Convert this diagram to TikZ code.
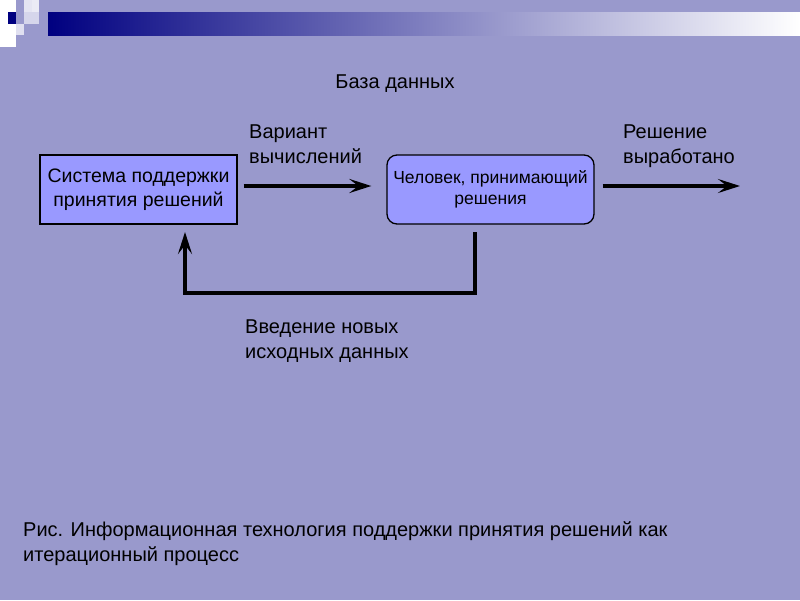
\documentclass[tikz,border=0pt]{standalone}
\usepackage{fontspec}
\setmainfont{Liberation Sans}
\usetikzlibrary{arrows.meta}
\definecolor{bg}{HTML}{9999CC}
\definecolor{boxf}{HTML}{9999FF}
\definecolor{navy}{HTML}{000080}
\tikzset{
 lbl/.style={align=left,anchor=north west,font=\fontsize{20}{25}\selectfont,inner sep=0},
 flow/.style={line width=3.5pt,-{Stealth[length=22pt,width=14pt,inset=9pt]}},
 box/.style={draw,line width=1.3pt,fill=boxf,minimum height=69pt,align=center,inner sep=1pt}
}
\begin{document}
\begin{tikzpicture}[x=1pt,y=-1pt]
\fill[bg] (0,0) rectangle (800,600);
\useasboundingbox (0,0) rectangle (800,600);
\shade[left color=navy,right color=white] (48,12) rectangle (800,35);
\fill[white] (0,0) rectangle (16,47);
\fill[navy] (8,12) rectangle (16,24);
\fill[white!75!bg] (24,0) rectangle (32,12);
\fill[white!60!bg] (24,12) rectangle (39,24);
\fill[white!80!bg] (32,0) rectangle (39,12);
\fill[white!70!bg] (16,24) rectangle (24,35);
\node[font=\fontsize{20}{24}\selectfont] (db) at (395,84) {База данных};
\node[box,minimum width=197pt,font=\fontsize{19.5}{24}\selectfont] (sys) at (138.5,189.5) {Система поддержки\\принятия решений};
\node[box,rounded corners=10pt,minimum width=207pt,font=\fontsize{17.5}{21}\selectfont] (man) at (490.5,189.5) {Человек, принимающий\\решения};
\node[lbl] (v) at (249,125) {Вариант\\вычислений};
\node[lbl] (r) at (623,125) {Решение\\выработано};
\node[lbl] (n) at (245,320) {Введение новых\\исходных данных};
\node[lbl] (cap) at (23,521) {Рис. Информационная технология поддержки принятия решений как\\итерационный процесс};
\coordinate (out) at (740,186);
\coordinate (a) at (475,232);
\coordinate (b) at (185,232);
\draw[flow] (sys.east|-0,186) ++(6,0) -- ([xshift=-15pt]man.west|-0,186);
\draw[flow] ([xshift=8pt]man.east|-0,186) -- (out);
\draw[flow] (a) -- (475,293) -- (185,293) -- (b);
\end{tikzpicture}
\end{document}
